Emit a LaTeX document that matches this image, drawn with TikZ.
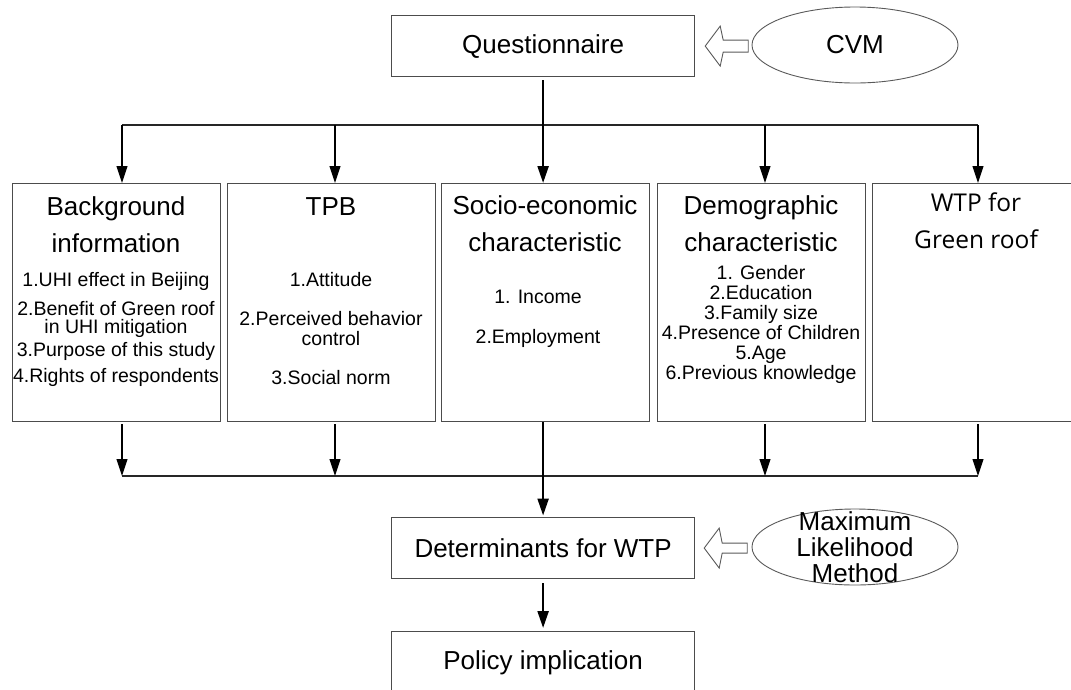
\documentclass[tikz,border=0pt]{standalone}
\usepackage{fontspec}
\setmainfont{Liberation Sans}
\newfontfamily\wtpfont{Open Sans}
\usetikzlibrary{arrows.meta,shapes.geometric,calc}

\begin{document}
\begin{tikzpicture}[x=1pt,y=-1pt,
  box/.style={draw=black!70, line width=1.2pt, rectangle, inner sep=0pt},
  col/.style={box, anchor=north west, minimum width=208pt, minimum height=238pt},
  wide/.style={box, anchor=north west, minimum width=303pt, minimum height=61pt,
               font=\fontsize{26}{30}\selectfont},
  hd/.style={inner sep=0pt, anchor=north, align=center, font=\fontsize{26}{37}\selectfont},
  itm/.style={inner sep=0pt, anchor=north, align=center, font=\fontsize{19.5}{20}\selectfont},
  tip/.style={-{Triangle[length=17pt,width=11pt]}},
  link/.style={tip, line width=1.1pt},
  trunk/.style={line width=2.3pt},
  bar/.style={line width=2pt, draw=black!85},
  oval/.style={ellipse, draw=black!65, line width=0.9pt, inner sep=0pt,
               minimum width=206pt, minimum height=76pt},
  hollow/.style={draw=black!65, line width=0.9pt, fill=white, line join=miter}
]
\useasboundingbox (0,0) rectangle (1071,689);

% top: questionnaire and the method feeding it
\node[wide] (q) at (391,15) {Questionnaire};
\node[oval, font=\fontsize{26}{30}\selectfont] (cvm) at (855,45) {CVM};

% five information blocks
\node[col] (b1) at (12,183) {};
\node[col] (b2) at (227,183) {};
\node[col] (b3) at (441,183) {};
\node[col] (b4) at (657,183) {};
\node[col] (b5) at (872,183) {};

\node[hd] (h1) at (116,196) {Background\\information};
\node[itm] (i1) at (116,272) {1.UHI effect in Beijing\\[9pt]2.Benefit of Green roof\\[-2pt]in UHI mitigation\\[3pt]3.Purpose of this study\\[6pt]4.Rights of respondents};

\node[hd] (h2) at (331,197) {TPB};
\node[itm] (i2) at (331,272) {1.Attitude\\[19pt]2.Perceived behavior\\control\\[19pt]3.Social norm};

\node[hd] (h3) at (545,195) {Socio-economic\\characteristic};
\node[itm] (i3) at (538,290) {1. Income\\[20pt]2.Employment};

\node[hd] (h4) at (761,195) {Demographic\\characteristic};
\node[itm] (i4) at (761,265) {1. Gender\\2.Education\\3.Family size\\4.Presence of Children\\5.Age\\6.Previous knowledge};

\node[hd, font=\wtpfont\fontsize{24.5}{37}\selectfont] (h5) at (976,193) {WTP for\\Green roof};

% analysis and outcome
\node[wide] (det) at (391,517) {Determinants for WTP};
\node[wide, minimum height=62pt] (pol) at (391,631) {Policy implication};
\node[oval] (mle) at (855,547) {};
\node[inner sep=0pt, anchor=north, align=center, font=\fontsize{26}{26}\selectfont] (mlet) at (855,511) {Maximum\\Likelihood\\Method};

% hollow arrows from the methods
\draw[hollow] ($(q.east)+(10,0)$) -- ++(15,-20) -- ++(3,14) -- ++(25,0) -- ++(0,12) -- ++(-25,0) -- ++(-3,14) -- cycle;
\draw[hollow] ($(det.east)+(9,0)$) -- ++(15,-20) -- ++(3,15) -- ++(25,0) -- ++(0,10) -- ++(-25,0) -- ++(-3,15) -- cycle;

% distribution from the questionnaire
\coordinate (c1) at (122,125);
\coordinate (c2) at (335,125);
\coordinate (c4) at (765,125);
\coordinate (c5) at (978,125);
\draw[bar] (c1) -- (c5);
\draw[trunk, tip, shorten <=3pt] (q.south) -- (q.south |- b3.north);
\foreach \k/\b in {1/b1,2/b2,4/b4,5/b5}
  \draw[link] (c\k) -- (c\k |- \b.north);

% collection into the determinants
\coordinate (e1) at (122,476);
\coordinate (e2) at (335,476);
\coordinate (e4) at (765,476);
\coordinate (e5) at (978,476);
\draw[bar] (e1) -- (e5);
\foreach \k/\b in {1/b1,2/b2,4/b4,5/b5}
  \draw[link, shorten <=2pt] (e\k |- \b.south) -- (e\k);
\draw[trunk, tip, shorten >=1.5pt] (b3.south -| det.north) -- (det.north);
\draw[trunk, tip, shorten <=4pt, shorten >=3pt] (det.south) -- (pol.north);
\end{tikzpicture}
\end{document}
